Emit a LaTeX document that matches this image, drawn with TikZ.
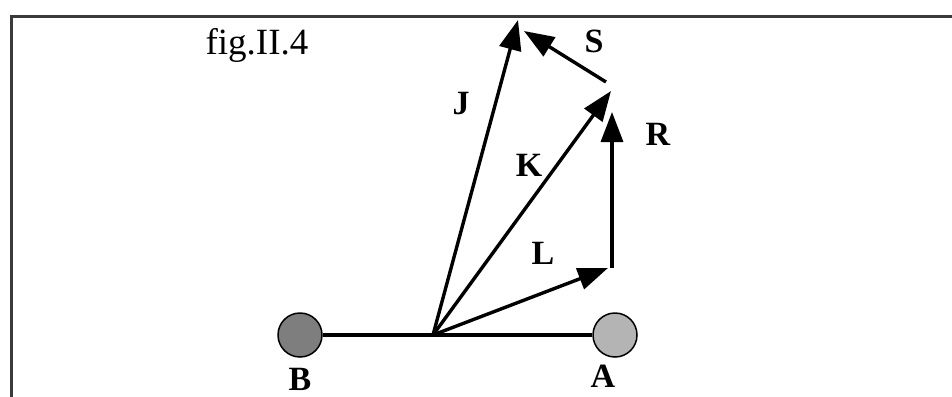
\documentclass[tikz,border=0pt]{standalone}
\usepackage{fontspec}
\setmainfont{Liberation Serif}
\definecolor{FigBlack}{HTML}{000000}
\definecolor{FrameGray}{HTML}{3A3A3A}
\definecolor{BallDark}{HTML}{7E7E7E}
\definecolor{BallLight}{HTML}{B4B4B4}
\usetikzlibrary{arrows.meta, positioning}
\tikzset{
    ball/.style={
        circle,
        draw=FigBlack,
        line width=1.5pt,
        fill=#1,
        minimum size=44pt,
        inner sep=0pt
    },
    ball/.default=BallLight,
    vec/.style={
        -{Triangle[length=30pt,width=22pt]},
        line width=3.4pt,
        FigBlack
    },
    baseline/.style={
        line width=3.2pt,
        FigBlack
    },
    tag/.style={
        font=\fontsize{34}{38}\selectfont\bfseries,
        text=FigBlack,
        inner sep=0pt
    },
    caption/.style={
        font=\fontsize{37}{42}\selectfont,
        text=FigBlack,
        inner sep=0pt
    },
    frame/.style={
        line width=3pt,
        FrameGray
    }
}
\begin{document}
\begin{tikzpicture}[x=1pt, y=-1pt]
        \useasboundingbox (0,0) rectangle (952,396);
        % open frame, top and left edges only
        \draw[frame] (11,420) -- (11,16.5) -- (980,16.5);

        \node[caption] (title) at (257,45) {fig.II.4};

        % the two balls and the bar joining them
        \node[ball=BallDark] (B) at (300,335) {};
        \node[ball=BallLight] (A) at (615,335) {};
        \coordinate (O) at (433,335);
        \draw[baseline] (B) -- (A);
        \node[tag, below=10pt of B] (Blabel) {B};
        \node[tag, below=7pt of A, xshift=-12pt] (Alabel) {A};

        % vector tips
        \coordinate (Jtip) at (518,20);
        \coordinate (Ktip) at (611,91);
        \coordinate (Ltip) at (608,268);
        \coordinate (Rbase) at (612,268);
        \coordinate (Rtip) at (612,112);
        \coordinate (Sbase) at (606,82);
        \coordinate (Stip) at (524,31);

        \draw[vec] (O) -- (Jtip);
        \draw[vec] (O) -- (Ktip);
        \draw[vec] (O) -- (Ltip);
        \draw[vec] (Rbase) -- (Rtip);
        \draw[vec] (Sbase) -- (Stip);

        \node[tag] (Jlabel) at (461,104) {J};
        \node[tag] (Klabel) at (529,165) {K};
        \node[tag] (Llabel) at (543,253) {L};
        \node[tag] (Rlabel) at (658,134) {R};
        \node[tag] (Slabel) at (594,41) {S};
    \end{tikzpicture}
\end{document}
